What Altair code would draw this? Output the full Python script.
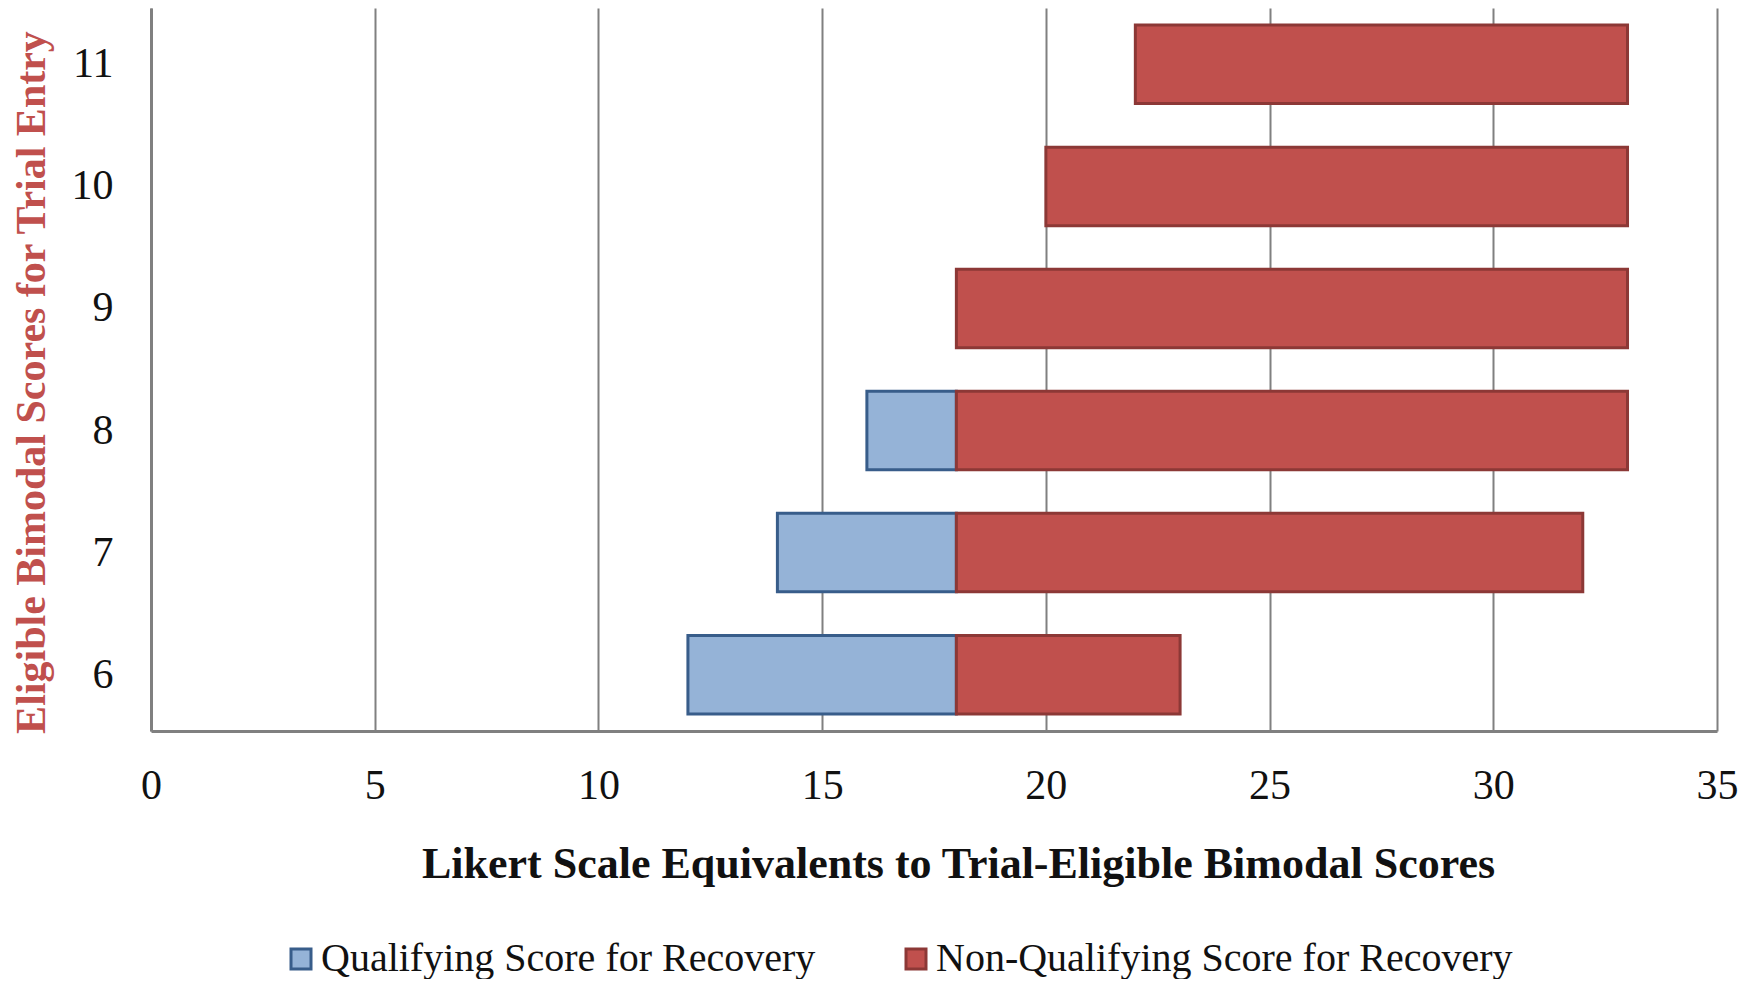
import altair as alt
import pandas as pd

scores = ["6", "7", "8", "9", "10", "11"]
qual_start = [12, 14, 16, None, None, None]
qual_end = [18, 18, 18, None, None, None]
nonqual_start = [18, 18, 18, 18, 20, 22]
nonqual_end = [23, 32, 33, 33, 33, 33]
series_names = ["Qualifying Score for Recovery", "Non-Qualifying Score for Recovery"]
x_ticks = [0, 5, 10, 15, 20, 25, 30, 35]

rows = []
for s, a, b in zip(scores, qual_start, qual_end):
    if a is not None:
        rows.append({"score": s, "series": series_names[0], "start": a, "end": b})
for s, a, b in zip(scores, nonqual_start, nonqual_end):
    rows.append({"score": s, "series": series_names[1], "start": a, "end": b})
df = pd.DataFrame(rows)

FONT = "Liberation Serif"
GRID = "#808080"

legend_cfg = dict(title=None, orient="none", direction="horizontal",
                  legendX=130, legendY=931,
                  symbolType="square", symbolSize=400, symbolStrokeWidth=3,
                  labelFont=FONT, labelFontSize=40, labelColor="#111111",
                  labelOffset=0, columnPadding=80, labelLimit=900)

chart = alt.Chart(df).mark_bar(strokeWidth=3).encode(
    x=alt.X("start:Q",
            scale=alt.Scale(domain=[0, 35], nice=False),
            axis=alt.Axis(values=x_ticks, title="Likert Scale Equivalents to Trial-Eligible Bimodal Scores",
                          grid=True, gridColor=GRID, gridWidth=2, gridOpacity=1,
                          domainColor=GRID, domainWidth=3, ticks=False, labelFlush=False,
                          labelFont=FONT, labelFontSize=42, labelColor="#111111", labelPadding=34,
                          titleFont=FONT, titleFontSize=44, titleFontWeight="bold", titleColor="#111111",
                          titleX=807, titleY=133, titleAlign="center", titleBaseline="middle")),
    x2="end:Q",
    y=alt.Y("score:O", sort=list(reversed(scores)),
            scale=alt.Scale(paddingInner=0.357, paddingOuter=0.14),
            axis=alt.Axis(title="Eligible Bimodal Scores for Trial Entry", labelAngle=0,
                          domainColor=GRID, domainWidth=3, ticks=False,
                          labelFont=FONT, labelFontSize=42, labelColor="#111111", labelPadding=38,
                          titleFont=FONT, titleFontSize=42, titleFontWeight="bold", titleColor="#C0504D",
                          titleX=-120, titleY=374, titleAngle=270, titleAlign="center", titleBaseline="middle")),
    fill=alt.Fill("series:N",
                  scale=alt.Scale(domain=series_names, range=["#95B3D7", "#C0504D"]),
                  legend=alt.Legend(**legend_cfg)),
    stroke=alt.Stroke("series:N",
                      scale=alt.Scale(domain=series_names, range=["#385D8A", "#8C3836"]),
                      legend=alt.Legend(**legend_cfg)),
).properties(
    width=1566, height=723,
    autosize=alt.AutoSizeParams(type="none"),
    padding={"left": 143, "top": 0, "right": 30, "bottom": 248},
).configure(background="white").configure_view(stroke=None)

chart.save("out.html", embed_options={"renderer": "svg", "actions": False})
